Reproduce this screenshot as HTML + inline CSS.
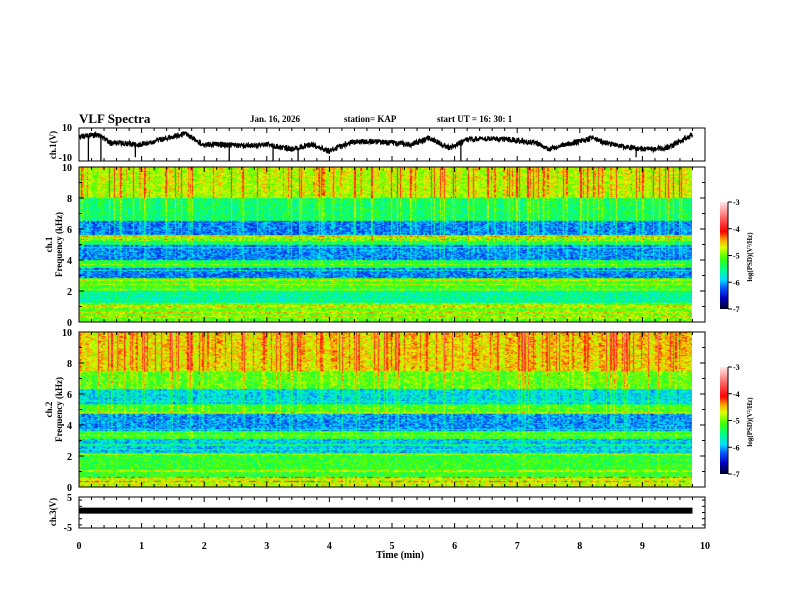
<!DOCTYPE html>
<html><head><meta charset="utf-8"><style>
body{margin:0;background:#fff;width:792px;height:612px;overflow:hidden}
#wrap{position:relative;width:792px;height:612px}
canvas{position:absolute}
svg{position:absolute;left:0;top:0}
text{font-family:"Liberation Serif",serif;font-weight:bold;fill:#000}
</style></head><body><div id="wrap">
<canvas id="s1" width="613" height="155" style="left:79px;top:167px"></canvas>
<canvas id="s2" width="613" height="155" style="left:79px;top:332px"></canvas>
<canvas id="cb1" width="8" height="107" style="left:720px;top:202px"></canvas>
<canvas id="cb2" width="8" height="107" style="left:720px;top:367px"></canvas>
<svg id="ax" width="792" height="612"></svg>
</div>
<script>
// ---- data ----
const ch1Times=[0,0.3,0.5,0.7,0.9,1.0,1.3,1.5,1.7,1.9,2.0,2.3,2.6,3.0,3.4,3.7,4.0,4.3,4.6,5.0,5.3,5.6,5.9,6.2,6.5,6.9,7.3,7.5,7.8,8.2,8.5,8.8,9.1,9.4,9.6,9.8];
const ch1Volts=[5,6,1,1,0,0,3,5,7,2,0,0,-1,0,-3,0,-4,1,2,1,0,4,-2,3,4,3,1,-3,0,4,0,-2,-3,-2,2,6];
const spikeTimes=[0.15,0.35,0.9,2.4,3.1,3.5,6.1,8.9];
const spikeVolts=[-10,-10,-8,-10,-10,-10,-10,-8];
const ch3Volt=[0.6];
const freqEdgesCh1=[10,8,6.5,5.6,5.2,5.0,4.0,3.5,2.8,2.0,1.2,0];
const levelsCh1=[-4.85,-5.45,-6.15,-5.0,-5.4,-6.1,-5.3,-6.1,-5.1,-5.5,-4.95];
const freqEdgesCh2=[10,7.5,6.3,5.3,4.7,3.6,3.1,2.2,0.6,0];
const levelsCh2=[-4.65,-5.1,-5.85,-5.15,-6.05,-5.15,-5.85,-5.15,-4.7];
const lineFreqs=[0.3,0.6,1.0,2.1,2.4,2.7,3.3,3.7,4.8,5.3,5.5];
const bursts=[2,5,1,6,3,2,7,1,4,2,6,3,1,5,8,2,3,6,1,4,2,5,7,3,2,6,4,1,3,8,2,5,3,6,2,7,4,1,5,3,8,2,6,4,2,5,3,7,1,6,4,2,5,8,3,6,2,4,7,3,5,2,6,8,4,3,5,2,7,6,3,4,8,2,5,6,3,7,2,4,6,5,3,8,2,6,4,7,3,5,6,2,8,4,6,3,7,5];
const tLabels=["0","1","2","3","4","5","6","7","8","9","10"];
const cbLabels=["-3","-4","-5","-6","-7"];

// ---- scales ----
const X0=79,X1=705;
const xs=t=>X0+(X1-X0)*t/10;
function hash(a,b){let h=(a*374761393+b*668265263)|0;h=(h^(h>>>13))*1274126177|0;return ((h^(h>>>16))>>>0)/4294967296;}
const stops=[[-7,[0,0,48]],[-6.6,[0,0,192]],[-6.2,[0,96,255]],[-5.9,[0,224,255]],[-5.5,[0,255,128]],[-5.1,[64,255,0]],[-4.7,[224,255,0]],[-4.4,[255,160,0]],[-4.1,[255,0,0]],[-3.6,[255,96,96]],[-3,[255,228,228]]];
function cmap(v){if(v<=-7)return stops[0][1];if(v>=-3)return stops[stops.length-1][1];
 for(let i=0;i<stops.length-1;i++){const a=stops[i],b=stops[i+1];if(v<=b[0]){const f=(v-a[0])/(b[0]-a[0]);return a[1].map((c,k)=>c+(b[1][k]-c)*f);}}}
function levelAt(f,edges,lv){for(let i=0;i<lv.length;i++){if(f<=edges[i]&&f>=edges[i+1])return lv[i];}return lv[lv.length-1];}
function drawSpec(id,edges,lv,seed){
 const c=document.getElementById(id),ctx=c.getContext('2d'),W=c.width,H=c.height;
 const img=ctx.createImageData(W,H);
 for(let x=0;x<W;x++){const t=x/(X1-X0)*10;const bi=Math.min(bursts.length-1,Math.floor(t/0.1));
  const b=bursts[bi]/8;const hs=hash(x,seed);const streak=hs>0.9?0.9:(hs>0.8?0.45:0);
  for(let y=0;y<H;y++){const f=10*(1-y/(H-1));
   let v=levelAt(f,edges,lv);
   for(const lf of lineFreqs){if(Math.abs(f-lf)<0.04)v+=0.4;}
   const w=Math.max(0.1,(f-1.5)/8.5);
   v+=(b*0.35+streak)*w-0.1+(hash(x>>1,y+seed*7)-0.5)*0.65;
   const col=cmap(v),k=(y*W+x)*4;
   img.data[k]=col[0];img.data[k+1]=col[1];img.data[k+2]=col[2];img.data[k+3]=255;}}
 ctx.putImageData(img,0,0);}
drawSpec('s1',freqEdgesCh1,levelsCh1,1);
drawSpec('s2',freqEdgesCh2,levelsCh2,2);
['cb1','cb2'].forEach(id=>{const c=document.getElementById(id),ctx=c.getContext('2d');
 for(let y=0;y<c.height;y++){const v=-3-4*y/(c.height-1);const col=cmap(v);ctx.fillStyle=`rgb(${col.map(Math.round).join(',')})`;ctx.fillRect(0,y,8,1);}});

// ---- axes ----
const svg=document.getElementById('ax');const NS='http://www.w3.org/2000/svg';
function el(tag,attrs,txt){const e=document.createElementNS(NS,tag);for(const k in attrs)e.setAttribute(k,attrs[k]);if(txt!==undefined)e.textContent=txt;svg.appendChild(e);return e;}
const panels=[{top:128,bot:161,name:'ch1-panel'},{top:167,bot:322,name:'ch1-spec-panel'},{top:332,bot:487,name:'ch2-spec-panel'},{top:497,bot:528,name:'ch3-panel'}];
panels.forEach(p=>{const r=el('rect',{x:X0,y:p.top,width:X1-X0,height:p.bot-p.top,fill:'none',stroke:'#000','stroke-width':1});
 
 for(let i=0;i<=50;i++){const x=xs(i*0.2),len=i%5===0?5:3;
  el('line',{x1:x,x2:x,y1:p.top,y2:p.top+len,stroke:'#000'});el('line',{x1:x,x2:x,y1:p.bot,y2:p.bot-len,stroke:'#000'});}});
[[167,322,'ch1'],[332,487,'ch2']].forEach(([top,bot,nm])=>{
 for(let k=0;k<=10;k++){const y=bot-(bot-top)*k/10,len=k%2===0?5:3;
  el('line',{x1:X0,x2:X0+len,y1:y,y2:y,stroke:'#000'});el('line',{x1:X1,x2:X1-len,y1:y,y2:y,stroke:'#000'});
  if(k%2===0){const t=el('text',{x:72,y:y+4,'text-anchor':'end','font-size':10},String(k));}}
 const yl=el('text',{transform:`translate(52,${(top+bot)/2}) rotate(-90)`,'text-anchor':'middle','font-size':9},nm==='ch1'?'ch.1':'ch.2');
 const yl2=el('text',{transform:`translate(62,${(top+bot)/2}) rotate(-90)`,'text-anchor':'middle','font-size':9},'Frequency (kHz)');});
const y1=v=>144.5-v*16/10;
let pts=[];for(let i=0;i<ch1Times.length-1;i++){const t0=ch1Times[i],t1=ch1Times[i+1];const n=Math.max(1,Math.round((t1-t0)/0.004));
 for(let j=0;j<n;j++){const t=t0+(t1-t0)*j/n;const v=ch1Volts[i]+(ch1Volts[i+1]-ch1Volts[i])*j/n;const jit=(hash(i,j)-0.5)*3.5;pts.push(xs(t).toFixed(1)+','+y1(Math.max(-10,Math.min(10,v+jit))).toFixed(1));}}
pts.push(xs(9.8)+','+y1(ch1Volts[ch1Volts.length-1]));
const tr=el('polyline',{points:pts.join(' '),fill:'none',stroke:'#000','stroke-width':1.1});
function ch1At(t){for(let i=0;i<ch1Times.length-1;i++){if(t>=ch1Times[i]&&t<=ch1Times[i+1])return ch1Volts[i]+(ch1Volts[i+1]-ch1Volts[i])*(t-ch1Times[i])/(ch1Times[i+1]-ch1Times[i]);}return 0;}
spikeTimes.forEach((t,i)=>{const s=el('line',{x1:xs(t),x2:xs(t),y1:y1(ch1At(t)),y2:y1(spikeVolts[i]),stroke:'#000','stroke-width':1.3});});
[[10,131],[-10,161]].forEach(([v,y])=>{const t=el('text',{x:72,y:y,'text-anchor':'end','font-size':10},String(v));});
const c1=el('text',{transform:'translate(56,145) rotate(-90)','text-anchor':'middle','font-size':9},'ch.1(V)');
const y3=v=>512.5-v*31/10;
for(let v=-4;v<=4;v+=2){el('line',{x1:X0,x2:X0+3,y1:y3(v),y2:y3(v),stroke:'#000'});el('line',{x1:X1,x2:X1-3,y1:y3(v),y2:y3(v),stroke:'#000'});}
const b3=el('rect',{x:X0,y:y3(ch3Volt[0])-3,width:xs(9.8)-X0,height:6,fill:'#000'});
[[5,501],[-5,531]].forEach(([v,y])=>{const t=el('text',{x:72,y:y,'text-anchor':'end','font-size':10},String(v));});
const c3=el('text',{transform:'translate(56,512) rotate(-90)','text-anchor':'middle','font-size':9},'ch.3(V)');
tLabels.forEach((s,i)=>{const t=el('text',{x:xs(i),y:549,'text-anchor':'middle','font-size':10},s);});
const xt=el('text',{x:400,y:558,'text-anchor':'middle','font-size':10},'Time (min)');
const hd=[['VLF Spectra',79,123,13,'plot-title'],['Jan. 16, 2026',250,122,9,'date-label'],['station= KAP',344,122,9,'station-label'],['start UT =  16: 30: 1',437,122,9,'start-time-label']];
hd.forEach(([s,x,y,fs,n])=>{const t=el('text',{x:x,y:y,'font-size':fs},s);});
[202,367].forEach((top,ci)=>{el('line',{x1:728,x2:728,y1:top,y2:top+107,stroke:'#000'});
 cbLabels.forEach((s,i)=>{const y=top+107*i/4;el('line',{x1:728,x2:732,y1:y,y2:y,stroke:'#000'});
  const t=el('text',{x:733,y:y+3,'font-size':8},s);});
 const lt=el('text',{transform:`translate(752,${top+55}) rotate(-90)`,'text-anchor':'middle','font-size':7},'log(PSD)(V\u00B2/Hz)');});
</script></body></html>
